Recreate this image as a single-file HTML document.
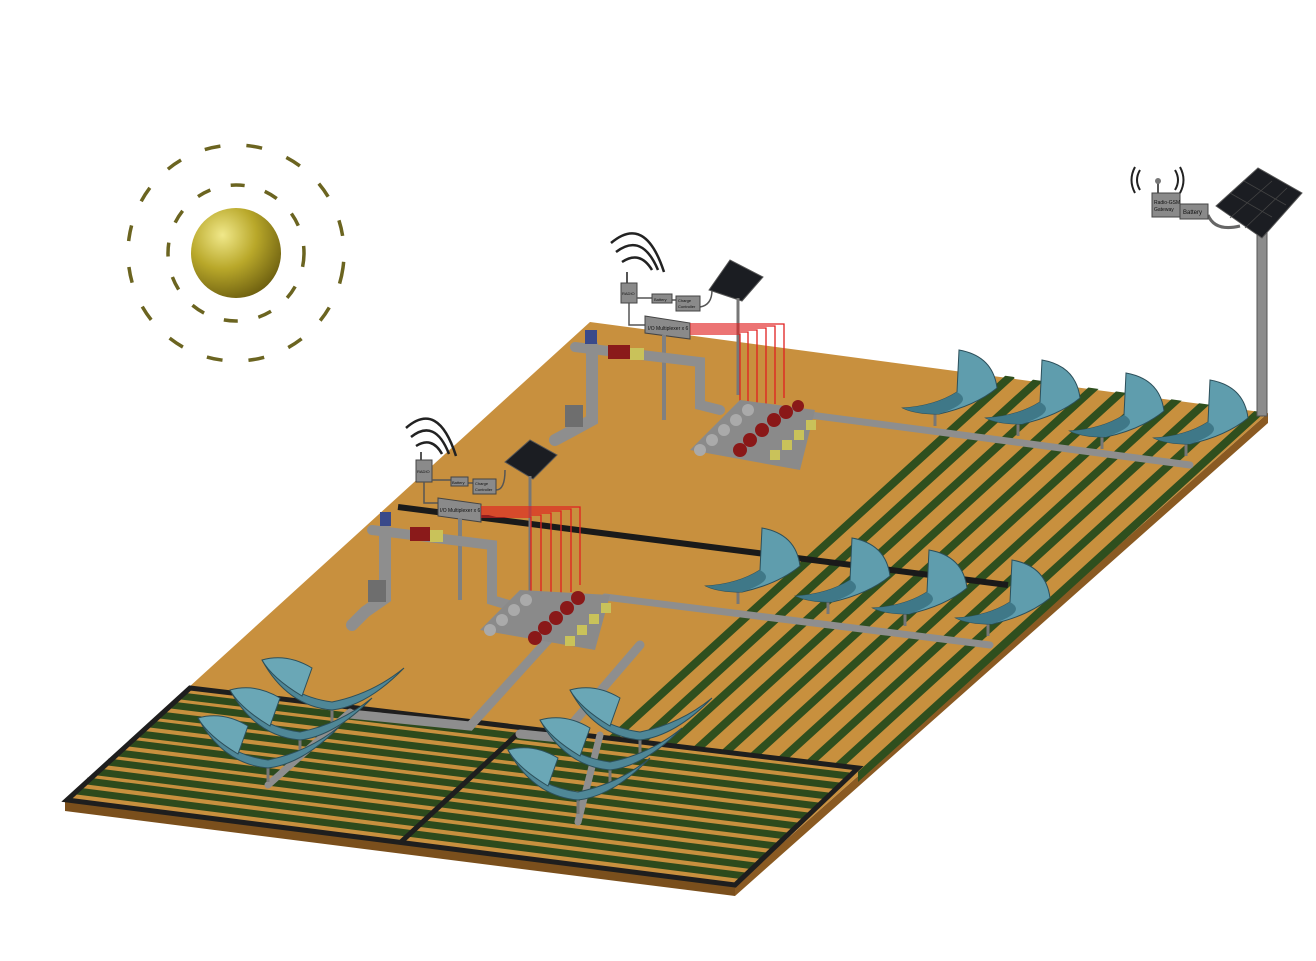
<!DOCTYPE html>
<html><head><meta charset="utf-8"><style>
html,body{margin:0;padding:0;background:#fff;width:1316px;height:961px;overflow:hidden;position:relative}
svg{display:block;position:absolute;left:0;top:0}
text{font-family:"Liberation Sans",sans-serif;fill:#111}
</style></head><body>
<svg width="1316" height="961" viewBox="0 0 1316 961">
<defs>
<radialGradient id="sun" cx="35%" cy="30%" r="75%">
<stop offset="0" stop-color="#f0e88a"/><stop offset="0.5" stop-color="#b9a82a"/><stop offset="1" stop-color="#6e6010"/>
</radialGradient>
<clipPath id="diag"><polygon points="1000,375 1268,413 858,782 858,768 590,737"/></clipPath>
<g id="fan">
<line x1="0" y1="0" x2="0" y2="14" stroke="#777" stroke-width="3"/>
<path d="M-32,-4 Q0,-6 22,-20 L24,-62 Q58,-56 62,-24 Q40,-6 4,2 Q-20,2 -32,-4 Z" fill="#5f9dad" stroke="#2c4f5a" stroke-width="1"/>
<path d="M-32,-4 Q0,-6 22,-20 Q40,-10 4,2 Q-20,2 -32,-4Z" fill="#3f7888"/>
</g>
<g id="fan2">
<line x1="0" y1="0" x2="0" y2="16" stroke="#777" stroke-width="3"/>
<path d="M-70,-48 Q-45,-12 0,-6 Q40,-14 72,-40 Q35,-2 0,2 Q-45,-2 -70,-48 Z" fill="#4f8797" stroke="#2c4f5a" stroke-width="1"/>
<path d="M-70,-48 Q-60,-30 -30,-12 L-20,-40 Q-45,-55 -70,-48Z" fill="#6aa7b6" stroke="#2c4f5a" stroke-width="1"/>
</g>
</defs>

<polygon points="65,800 735,885 735,896 65,811" fill="#7a4f1c"/>
<polygon points="735,885 1268,413 1268,423 735,896" fill="#8a5a22"/>
<polygon points="590,322 1268,413 735,885 65,800" fill="#c8903e"/>

<g clip-path="url(#diag)" stroke="#2f4f1e" stroke-width="8">
<line x1="1012" y1="375" x2="312" y2="1012"/><line x1="1044" y1="375" x2="344" y2="1012"/>
<line x1="1076" y1="375" x2="376" y2="1012"/><line x1="1108" y1="375" x2="408" y2="1012"/>
<line x1="1140" y1="375" x2="440" y2="1012"/><line x1="1172" y1="375" x2="472" y2="1012"/>
<line x1="1204" y1="375" x2="504" y2="1012"/><line x1="1236" y1="375" x2="536" y2="1012"/>
<line x1="1268" y1="375" x2="568" y2="1012"/><line x1="1300" y1="375" x2="600" y2="1012"/>
<line x1="1332" y1="375" x2="632" y2="1012"/><line x1="1364" y1="375" x2="664" y2="1012"/>
</g>

<g stroke="#2d4a1c" stroke-width="7">
<line x1="181" y1="696" x2="849" y2="776"/><line x1="171" y1="705" x2="839" y2="786"/>
<line x1="160" y1="715" x2="828" y2="796"/><line x1="150" y1="724" x2="818" y2="806"/>
<line x1="140" y1="734" x2="808" y2="816"/><line x1="129" y1="743" x2="797" y2="826"/>
<line x1="119" y1="753" x2="787" y2="836"/><line x1="108" y1="762" x2="776" y2="846"/>
<line x1="98" y1="772" x2="766" y2="856"/><line x1="87" y1="781" x2="755" y2="866"/>
<line x1="77" y1="791" x2="745" y2="876"/>
</g>
<polygon points="190,688 858,768 735,885 67,800" fill="none" stroke="#1e1e1e" stroke-width="5"/>
<line x1="524" y1="728" x2="401" y2="842" stroke="#1e1e1e" stroke-width="5"/>

<line x1="398" y1="507" x2="1008" y2="585" stroke="#1a1a1a" stroke-width="6"/>

<circle cx="236" cy="253" r="68" fill="none" stroke="#6b6420" stroke-width="3.5" stroke-dasharray="14 21"/>
<circle cx="236" cy="253" r="108" fill="none" stroke="#6b6420" stroke-width="3.5" stroke-dasharray="16 26" transform="rotate(8 236 253)"/>
<circle cx="236" cy="253" r="45" fill="url(#sun)"/>

<rect x="1257" y="232" width="10" height="184" fill="#8c8c8c" stroke="#555"/>
<polygon points="1216,206 1258,168 1302,193 1262,238" fill="#1b1d22" stroke="#555"/>
<g stroke="#444" stroke-width="0.8"><line x1="1230" y1="193" x2="1272" y2="217"/><line x1="1244" y1="181" x2="1286" y2="205"/><line x1="1230" y1="218" x2="1272" y2="181"/><line x1="1245" y1="228" x2="1287" y2="188"/></g>
<path d="M1208,215 Q1215,232 1240,226" fill="none" stroke="#666" stroke-width="3"/>
<line x1="1158" y1="182" x2="1158" y2="194" stroke="#555" stroke-width="2"/><circle cx="1158" cy="181" r="3" fill="#777"/>
<rect x="1152" y="193" width="28" height="24" fill="#8a8a8a" stroke="#444"/>
<text x="1154" y="204" font-size="5">Radio-GSM</text><text x="1154" y="211" font-size="5">Gateway</text>
<rect x="1180" y="204" width="28" height="15" fill="#8a8a8a" stroke="#444"/>
<text x="1183" y="214" font-size="6">Battery</text>
<g fill="none" stroke="#222" stroke-width="2"><path d="M1140,170 Q1134,180 1140,190"/><path d="M1135,167 Q1128,180 1135,193"/><path d="M1175,170 Q1181,180 1175,190"/><path d="M1180,167 Q1187,180 1180,193"/></g>

<g fill="none" stroke="#222" stroke-width="2.5"><path d="M622,262 Q640,250 652,270"/><path d="M616,252 Q642,232 658,270"/><path d="M611,243 Q645,214 664,272"/></g>
<line x1="627" y1="272" x2="627" y2="284" stroke="#555" stroke-width="2"/>
<rect x="621" y="283" width="16" height="20" fill="#8a8a8a" stroke="#444"/><text x="622" y="295" font-size="4">RADIO</text>
<path d="M637,298 L652,298 M672,300 L676,300 M700,307 Q712,305 712,290 M629,303 L629,325 L645,325" fill="none" stroke="#555" stroke-width="1.5"/>
<rect x="652" y="294" width="20" height="9" fill="#8a8a8a" stroke="#444"/><text x="654" y="301" font-size="4">Battery</text>
<rect x="676" y="296" width="24" height="15" fill="#8a8a8a" stroke="#444"/><text x="678" y="302" font-size="4">Charge</text><text x="678" y="308" font-size="4">Controller</text>
<polygon points="709,290 730,260 763,277 742,301" fill="#1b1d22" stroke="#555"/>
<line x1="738" y1="298" x2="738" y2="395" stroke="#777" stroke-width="3"/>
<polygon points="645,316 690,323 690,339 645,333" fill="#8a8a8a" stroke="#444"/>
<text x="648" y="330" font-size="5">I/O Multiplexer x 6</text>
<line x1="664" y1="335" x2="664" y2="420" stroke="#808080" stroke-width="4"/>
<g fill="none" stroke="#e02020" stroke-width="1.3">
<path d="M690,324 H784 V398"/><path d="M690,326 H775 V404"/><path d="M690,328 H766 V410"/><path d="M690,330 H757 V416"/><path d="M690,332 H748 V420"/><path d="M690,334 H740 V424"/>
</g>
<g stroke="#8e8e8e" stroke-linecap="round" fill="none">
<path d="M575,347 L700,362 L700,405 L720,410" stroke-width="10"/>
<path d="M592,345 L592,420 L570,432 L555,440" stroke-width="12"/>
<path d="M810,415 L1190,465" stroke-width="7"/>
</g>
<rect x="585" y="330" width="12" height="14" fill="#3a4a8a"/>
<rect x="608" y="345" width="22" height="14" fill="#8a1a1a"/><rect x="630" y="348" width="14" height="12" fill="#c9c25a"/>
<rect x="565" y="405" width="18" height="22" fill="#6e6e6e"/>
<polygon points="690,450 740,400 815,410 800,470" fill="#8a8a8a"/>
<g fill="#8a1818"><circle cx="750" cy="440" r="7"/><circle cx="762" cy="430" r="7"/><circle cx="774" cy="420" r="7"/><circle cx="786" cy="412" r="7"/><circle cx="740" cy="450" r="7"/><circle cx="798" cy="406" r="6"/></g>
<g fill="#c9c25a"><rect x="770" y="450" width="10" height="10"/><rect x="782" y="440" width="10" height="10"/><rect x="794" y="430" width="10" height="10"/><rect x="806" y="420" width="10" height="10"/></g>
<g fill="#aaa"><circle cx="700" cy="450" r="6"/><circle cx="712" cy="440" r="6"/><circle cx="724" cy="430" r="6"/><circle cx="736" cy="420" r="6"/><circle cx="748" cy="410" r="6"/></g>
<use href="#fan" x="935" y="412"/><use href="#fan" x="1018" y="422"/><use href="#fan" x="1102" y="435"/><use href="#fan" x="1186" y="442"/>

<g fill="none" stroke="#222" stroke-width="2.5"><path d="M416,446 Q432,436 442,454"/><path d="M411,437 Q435,418 449,454"/><path d="M406,428 Q438,400 456,456"/></g>
<line x1="421" y1="452" x2="421" y2="462" stroke="#555" stroke-width="2"/>
<rect x="416" y="460" width="16" height="22" fill="#8a8a8a" stroke="#444"/><text x="417" y="473" font-size="4">RADIO</text>
<path d="M432,480 L451,480 M468,483 L473,483 M496,490 Q505,490 505,470 M424,482 L424,503 L438,503" fill="none" stroke="#555" stroke-width="1.5"/>
<rect x="451" y="477" width="17" height="9" fill="#8a8a8a" stroke="#444"/><text x="452" y="484" font-size="4">Battery</text>
<rect x="473" y="479" width="23" height="15" fill="#8a8a8a" stroke="#444"/><text x="475" y="485" font-size="4">Charge</text><text x="475" y="491" font-size="4">Controller</text>
<polygon points="505,462 530,440 557,455 533,479" fill="#1b1d22" stroke="#555"/>
<line x1="530" y1="476" x2="530" y2="605" stroke="#777" stroke-width="3"/>
<polygon points="438,498 481,504 481,522 438,516" fill="#8a8a8a" stroke="#444"/>
<text x="440" y="512" font-size="5">I/O Multiplexer x 6</text>
<line x1="460" y1="518" x2="460" y2="600" stroke="#808080" stroke-width="4"/>
<g fill="none" stroke="#e02020" stroke-width="1.3">
<path d="M481,507 H580 V585"/><path d="M481,509 H571 V592"/><path d="M481,511 H561 V598"/><path d="M481,513 H551 V605"/><path d="M481,515 H541 V612"/><path d="M481,517 H531 V620"/>
</g>
<g stroke="#8e8e8e" stroke-linecap="round" fill="none">
<path d="M372,530 L492,545 L492,600 L512,606" stroke-width="10"/>
<path d="M385,530 L385,598 L365,612 L352,625" stroke-width="12"/>
<path d="M605,597 L990,645" stroke-width="7"/>
<path d="M548,640 L470,726 L350,714" stroke-width="9"/>
<path d="M640,645 L560,738 L520,734" stroke-width="9"/>
<path d="M350,712 L268,785" stroke-width="7"/>
<path d="M600,735 L578,822" stroke-width="7"/>
</g>
<rect x="380" y="512" width="11" height="14" fill="#3a4a8a"/>
<rect x="410" y="527" width="20" height="14" fill="#8a1a1a"/><rect x="430" y="530" width="13" height="12" fill="#c9c25a"/>
<rect x="368" y="580" width="18" height="22" fill="#6e6e6e"/>
<polygon points="480,630 520,590 610,595 595,650" fill="#8a8a8a"/>
<g fill="#8a1818"><circle cx="545" cy="628" r="7"/><circle cx="556" cy="618" r="7"/><circle cx="567" cy="608" r="7"/><circle cx="578" cy="598" r="7"/><circle cx="535" cy="638" r="7"/></g>
<g fill="#c9c25a"><rect x="565" y="636" width="10" height="10"/><rect x="577" y="625" width="10" height="10"/><rect x="589" y="614" width="10" height="10"/><rect x="601" y="603" width="10" height="10"/></g>
<g fill="#aaa"><circle cx="490" cy="630" r="6"/><circle cx="502" cy="620" r="6"/><circle cx="514" cy="610" r="6"/><circle cx="526" cy="600" r="6"/></g>
<use href="#fan" x="738" y="590"/><use href="#fan" x="828" y="600"/><use href="#fan" x="905" y="612"/><use href="#fan" x="988" y="622"/>

<use href="#fan2" x="332" y="708"/><use href="#fan2" x="300" y="738"/><use href="#fan2" x="268" y="766"/>
<use href="#fan2" x="640" y="738"/><use href="#fan2" x="610" y="768"/><use href="#fan2" x="578" y="798"/>
</svg>
</body></html>
